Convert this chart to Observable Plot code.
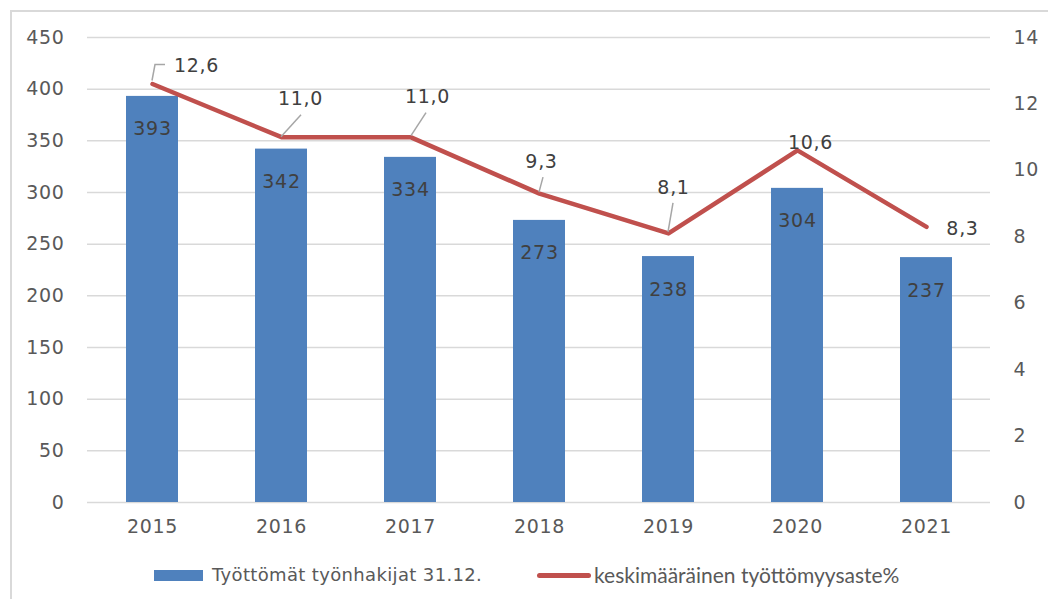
<!DOCTYPE html>
<html>
<head>
<meta charset="utf-8">
<script src="https://cdn.jsdelivr.net/npm/d3@7"></script>
<script src="https://cdn.jsdelivr.net/npm/@observablehq/plot@0.6"></script>
<style>
  html, body { margin: 0; padding: 0; background: #fff; }
  #wrap { position: relative; width: 1048px; height: 599px; overflow: hidden; }
  #frame { position: absolute; left: 10px; top: 10px; width: 1100px; height: 700px;
           border-left: 2px solid #d9d9d9; border-top: 2px solid #d9d9d9; pointer-events: none; }
  #chart { position: absolute; left: 0; top: 0; }
  #chart svg text { letter-spacing: 0.7px; }
  #legend { position: absolute; left: 0; top: 550px; width: 1048px; height: 49px;
            font-family: "DejaVu Sans", sans-serif; font-size: 18px; color: #595959; }
  .sw-bar { position: absolute; left: 154px; top: 20px; width: 49px; height: 11px; background: #4F81BD; }
  .tx1 { position: absolute; left: 212px; top: 14px; white-space: nowrap; letter-spacing: 0.35px; }
  .sw-line { position: absolute; left: 537px; top: 23px; width: 54px; height: 5px; border-radius: 3px; background: #C0504D; }
  .tx2 { position: absolute; left: 594px; top: 12px; white-space: nowrap; font-family: Lato, sans-serif; font-size: 21px; }
</style>
</head>
<body>
<div id="wrap">
  <div id="chart"></div>
  <div id="frame"></div>
  <div id="legend">
    <div class="sw-bar"></div><div class="tx1">Työttömät työnhakijat 31.12.</div>
    <div class="sw-line"></div><div class="tx2">keskimääräinen työttömyysaste%</div>
  </div>
</div>
<script>
const years = ["2015", "2016", "2017", "2018", "2019", "2020", "2021"];
const seekers = [393, 342, 334, 273, 238, 304, 237];
const rates = [12.6, 11.0, 11.0, 9.3, 8.1, 10.6, 8.3];
const leftTicks = [0, 50, 100, 150, 200, 250, 300, 350, 400, 450];
const rightTicks = [0, 2, 4, 6, 8, 10, 12, 14];

// layout config (pixel offsets of line labels and leader lines)
const labelOffsets = [[44, -18], [19, -38], [17, -40], [2, -32], [5, -46], [13, -8], [36, 2]];
const leaderPaths = [
  [[0, -3], [3, -19], [13, -19]],
  [[0, 0], [20, -22]],
  [[1, -1], [16, -24]],
  [[0, -1], [4, -16]],
  [[0, -1], [5, -30]],
  null,
  null
];

const k = 450 / 14;
const rows = years.map((y, i) => ({ year: y, seekers: seekers[i], rate: rates[i], rateY: rates[i] * k,
  label: rates[i].toFixed(1).replace(".", ",") }));

const FS = 19;
const lineLabels = rows.map((d, i) => Plot.text([d], {
  x: "year", y: "rateY", text: "label", dx: labelOffsets[i][0], dy: labelOffsets[i][1],
  fill: "#404040", fontSize: FS
}));

const chart = Plot.plot({
  width: 1048,
  height: 550,
  marginLeft: 87,
  marginRight: 58,
  marginTop: 37,
  marginBottom: 48,
  style: { fontFamily: "DejaVu Sans, sans-serif", fontSize: FS + "px", color: "#595959", background: "transparent" },
  x: { domain: years, paddingInner: 0.6, paddingOuter: 0.3, label: null },
  y: { domain: [0, 450], label: null },
  marks: [
    Plot.ruleY(leftTicks, { stroke: "#d9d9d9", strokeWidth: 1.5 }),
    Plot.axisY({ ticks: leftTicks, tickSize: 0, tickPadding: 23, label: null, fontSize: FS }),
    Plot.axisY(rightTicks.map(v => v * k), { anchor: "right", tickSize: 0, tickPadding: 23, label: null,
      tickFormat: d => String(Math.round(d / k)), fontSize: FS }),
    Plot.axisX({ tickSize: 0, tickPadding: 17, label: null, fontSize: FS }),
    Plot.barY(rows, { x: "year", y: "seekers", fill: "#4F81BD" }),
    Plot.text(rows, { x: "year", y: "seekers", text: d => String(d.seekers), dy: 33, fill: "#404040", fontSize: FS }),
    Plot.line(rows, { x: "year", y: "rateY", stroke: "#C0504D", strokeWidth: 4.5, strokeLinecap: "round", strokeLinejoin: "round" }),
    ...lineLabels
  ]
});

// leader lines, positioned through the plot's own scales
const sx = chart.scale("x"), sy = chart.scale("y");
const svg = d3.select(chart);
rows.forEach((d, i) => {
  const p = leaderPaths[i];
  if (!p) return;
  const cx = sx.apply(d.year) + sx.bandwidth / 2;
  const cy = sy.apply(d.rateY);
  svg.append("path")
    .attr("d", d3.line()(p.map(([dx, dy]) => [cx + dx, cy + dy])))
    .attr("fill", "none")
    .attr("stroke", "#a6a6a6")
    .attr("stroke-width", 1.5);
});

document.getElementById("chart").appendChild(chart);
</script>
</body>
</html>
